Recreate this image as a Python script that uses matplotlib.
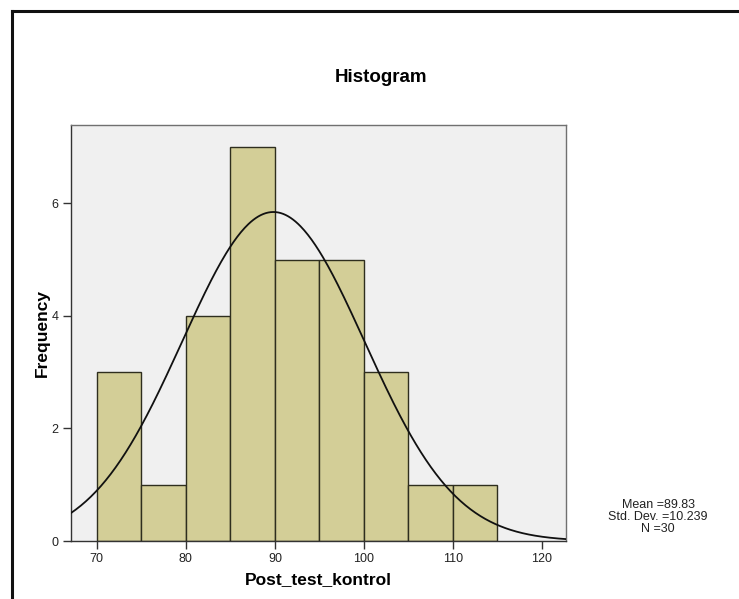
import numpy as np
import matplotlib.pyplot as plt

plt.rcParams['font.family'] = ['Liberation Sans', 'DejaVu Sans']

# histogram data
bin_edges = [70, 75, 80, 85, 90, 95, 100, 105, 110, 115]
counts = [3, 1, 4, 7, 5, 5, 3, 1, 1]
mean = 89.83
std = 10.239
n = 30

xticks = [70, 80, 90, 100, 110, 120]
yticks = [0, 2, 4, 6]

W, H = 739, 599
fig = plt.figure(figsize=(W / 100, H / 100), dpi=100)

# axes box in pixels: left 71, right 566, top 125, bottom 541
ax = fig.add_axes([71 / W, 1 - 541 / H, (566 - 71) / W, (541 - 125) / H])
ax.set_facecolor('#f0f0f0')

widths = np.diff(bin_edges)
ax.bar(bin_edges[:-1], counts, width=widths, align='edge',
       color='#d3ce97', edgecolor='#2e2e1e', linewidth=1.0, zorder=2)

binw = widths[0]
xs = np.linspace(67.1, 122.7, 400)
ys = n * binw / (std * np.sqrt(2 * np.pi)) * np.exp(-0.5 * ((xs - mean) / std) ** 2)
ax.plot(xs, ys, color='#111111', linewidth=1.3, zorder=3)

ax.set_xlim(67.1, 122.7)
ax.set_ylim(0, 7.39)
ax.set_xticks(xticks)
ax.set_yticks(yticks)
ax.tick_params(direction='out', length=6, width=1, color='#333333',
               labelsize=9, labelcolor='#222222', pad=3)
for side in ['left', 'bottom']:
    ax.spines[side].set_color('#333333')
for side in ['top', 'right']:
    ax.spines[side].set_color('#707070')
for s in ax.spines.values():
    s.set_linewidth(1.0)

ax.set_xlabel('Post_test_kontrol', fontsize=12.5, fontweight='bold', labelpad=5)
ax.set_ylabel('Frequency', fontsize=12.5, fontweight='bold', labelpad=1)

fig.text(381 / W, 1 - 78 / H, 'Histogram', fontsize=13.5, fontweight='bold',
         ha='center', va='center')

fig.text(658 / W, 1 - 517 / H,
         'Mean =%.2f\nStd. Dev. =%.3f\nN =%d' % (mean, std, n),
         fontsize=9, ha='center', va='center', linespacing=1.05,
         color='#222222')

# frame lines (top and left of the output window)
fig.add_artist(plt.Line2D([12 / W, 1], [1 - 11 / H, 1 - 11 / H],
                          color='#111111', linewidth=2.2))
fig.add_artist(plt.Line2D([12 / W, 12 / W], [0, 1 - 11 / H],
                          color='#111111', linewidth=2.2))

fig.savefig('out.png', dpi=100, facecolor='white')
